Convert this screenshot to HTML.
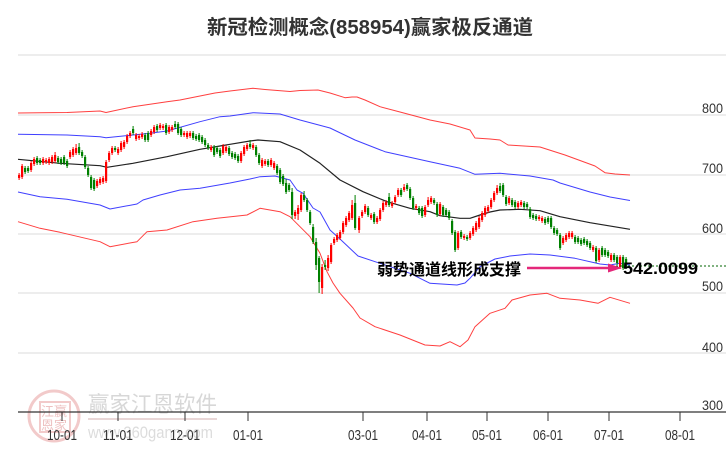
<!DOCTYPE html>
<html><head><meta charset="utf-8"><style>
html,body{margin:0;padding:0;background:#fff;}
svg{display:block;}
text{font-family:"Liberation Sans","Noto Sans CJK SC",sans-serif;}
</style></head><body>
<svg width="726" height="450" viewBox="0 0 726 450" xmlns="http://www.w3.org/2000/svg">
<rect width="726" height="450" fill="#fff"/>
<!-- title -->
<text x="207" y="34" font-size="20" font-weight="bold" fill="#333" textLength="326" lengthAdjust="spacingAndGlyphs">新冠检测概念(858954)赢家极反通道</text>
<!-- grid -->
<g stroke="#e2e2e2" stroke-width="1.2">
<line x1="18" y1="55" x2="726" y2="55"/>
<line x1="18" y1="115" x2="726" y2="115"/>
<line x1="18" y1="175" x2="726" y2="175"/>
<line x1="18" y1="234" x2="726" y2="234"/>
<line x1="18" y1="293" x2="726" y2="293"/>
<line x1="18" y1="353" x2="726" y2="353"/>
</g>
<!-- y labels -->
<g font-size="14" fill="#333" text-anchor="end">
<text x="723" y="113" textLength="21" lengthAdjust="spacingAndGlyphs">800</text>
<text x="723" y="173" textLength="21" lengthAdjust="spacingAndGlyphs">700</text>
<text x="723" y="233" textLength="21" lengthAdjust="spacingAndGlyphs">600</text>
<text x="723" y="291" textLength="21" lengthAdjust="spacingAndGlyphs">500</text>
<text x="723" y="352" textLength="21" lengthAdjust="spacingAndGlyphs">400</text>
<text x="723" y="410" textLength="21" lengthAdjust="spacingAndGlyphs">300</text>
</g>
<!-- watermark -->
<g opacity="0.55">
<circle cx="54" cy="416" r="25" fill="none" stroke="#e8a0a0" stroke-width="3"/>
<rect x="40" y="402" width="30" height="30" fill="none" stroke="#e8a0a0" stroke-width="2"/>
<text x="41" y="416" font-size="13" fill="#e09090">江赢</text>
<text x="41" y="430" font-size="13" fill="#e09090">恩家</text>
<text x="88" y="412" font-size="22" fill="#b8b8b8" textLength="129" lengthAdjust="spacingAndGlyphs">赢家江恩软件</text>
<line x1="88" y1="419" x2="217" y2="419" stroke="#d8b8b8" stroke-width="2"/>
<text x="88" y="438" font-size="17" fill="#c0c0c0" textLength="125" lengthAdjust="spacingAndGlyphs">www.360gann.com</text>
</g>
<!-- channel lines -->
<g fill="none" stroke-linejoin="round">
<polyline stroke="#ff2a2a" stroke-width="1" opacity="0.9" points="18,113 40,112.7 67,112.5 100,111 106,112.5 133,106.7 167,101.7 180,100 200,96 215,93 230,91 253,88.3 265,89.5 290,91.5 300,90.5 318,90 330,93 345,97.7 352,97 357,97 365,100 380,106.7 400,112 430,120 450,124 470,130 475,138 490,139 500,140 508,145 540,147 565,155 595,166 605,172.7 615,174 630,175"/>
<polyline stroke="#2a2aff" stroke-width="1" opacity="0.9" points="18,134.3 67,135 100,136.7 106,137.7 133,135 150,133.3 167,131 200,121.7 220,116.7 230,116 253,112.7 280,114 300,120 330,128 355,140 385,151.7 430,161.7 460,168.3 475,174.3 500,173.3 530,176 553,180 560,183 590,192 610,197 630,200.5"/>
<polyline stroke="#222" stroke-width="1.2" points="18,159.3 60,163.3 100,165.7 107,167.3 133,163.3 167,156.7 200,149.3 220,146 230,144.3 250,141 258,140 280,141.7 300,150 320,163.3 340,180 363,191.7 387,201.7 410,208.3 430,211.7 440,215.7 460,218.3 470,218.3 480,215 490,212 500,210 520,209.3 540,210.7 560,216.7 590,222.7 630,229.3"/>
<polyline stroke="#2a2aff" stroke-width="1" opacity="0.9" points="18,192 40,196.7 67,199.3 100,205 110,209 137,204 143,200 160,195 180,190 200,188.3 230,183 250,179 260,176.7 275,176 290,180 297,190 303,193.3 313,208 320,212 330,230 340,239 358,256 380,263.3 410,273.3 430,283.3 457,285 465,283 470,278.3 480,266.7 495,259 510,256 530,254 550,255 575,258.3 600,264 610,265 620,263.3 630,265"/>
<polyline stroke="#ff2a2a" stroke-width="1" opacity="0.9" points="18,221.7 40,228.3 60,232.3 100,241.7 110,246.7 137,241.7 147,231.7 167,230 193,221.7 217,218.3 247,215 260,208.3 280,211.7 290,216.7 300,226.7 310,236.7 320,253.3 327,271.7 333,283 340,293.3 353,308 360,318 375,326.7 400,335 425,345 440,346 450,341.7 460,346.7 468,340 475,326.7 490,313.3 505,308.3 512,300 530,295 547,293.3 560,298.3 580,300 598,303.3 610,297.3 630,303.3"/>
</g>
<!-- candles: red -->
<path fill="none" stroke="#ff0000" stroke-width="1" d="M19.1 173V180 M22.1 164V179 M31.1 161V172 M34.1 157V166 M43.1 157V165 M46.1 158V164 M49.1 157V165 M52.1 155V164 M55.1 152V163 M70.1 150V159 M73.1 147V157 M76.1 144V155 M97.1 179V188 M100.1 177V185 M103.1 176V184 M106.1 160V183 M109.1 151V162 M112.1 146V155 M118.1 147V155 M121.1 141V152 M124.1 140V149 M127.1 134V144 M130.1 131V138 M136.1 133V141 M139.1 134V140 M142.1 132V139 M151.1 129V137 M154.1 125V134 M160.1 123V130 M163.1 124V130 M169.1 125V134 M172.1 125V132 M184.1 131V137 M187.1 131V139 M190.1 131V138 M211.1 145V152 M223.1 144V155 M226.1 145V153 M241.1 151V163 M244.1 145V156 M247.1 143V151 M253.1 143V150 M262.1 158V168 M265.1 159V166 M271.1 158V167 M274.1 161V170 M295.1 210V219 M298.1 205V220 M301.1 193V212 M322.1 264V294 M328.1 255V271 M331.1 243V264 M334.1 237V245 M337.1 233V242 M340.1 230V240 M343.1 221V234 M346.1 216V227 M349.1 211V222 M352.1 200V220 M359.1 216V233 M362.1 210V218 M365.1 204V214 M371.1 213V220 M377.1 216V224 M380.1 208V221 M383.1 201V212 M386.1 200V207 M392.1 201V208 M395.1 195V204 M398.1 188V197 M404.1 184V192 M416.1 204V210 M425.1 205V217 M428.1 197V207 M431.1 196V204 M440.1 202V216 M458.1 231V250 M464.1 234V240 M470.1 231V240 M473.1 226V236 M476.1 221V232 M479.1 216V229 M482.1 211V222 M485.1 206V217 M488.1 205V213 M491.1 198V209 M494.1 191V202 M497.1 185V195 M509.1 196V205 M518.1 201V209 M521.1 200V207 M539.1 215V221 M542.1 216V223 M563.1 236V245 M566.1 233V242 M569.1 231V239 M572.1 231V239 M593.1 245V252 M599.1 248V262 M611.1 253V262 M620.1 255V269"/>
<path fill="#ff0000" d="M18 175h2.2v3h-2.2z M21 166h2.2v11h-2.2z M30 163h2.2v7h-2.2z M33 159h2.2v5h-2.2z M42 159h2.2v4h-2.2z M45 160h2.2v2h-2.2z M48 159h2.2v4h-2.2z M51 157h2.2v5h-2.2z M54 155h2.2v6h-2.2z M69 152h2.2v5h-2.2z M72 149h2.2v6h-2.2z M75 148h2.2v5h-2.2z M96 181h2.2v5h-2.2z M99 179h2.2v4h-2.2z M102 178h2.2v4h-2.2z M105 162h2.2v19h-2.2z M108 153h2.2v7h-2.2z M111 148h2.2v5h-2.2z M117 149h2.2v4h-2.2z M120 143h2.2v7h-2.2z M123 142h2.2v5h-2.2z M126 136h2.2v6h-2.2z M129 133h2.2v3h-2.2z M135 135h2.2v4h-2.2z M138 136h2.2v2h-2.2z M141 134h2.2v3h-2.2z M150 131h2.2v4h-2.2z M153 127h2.2v5h-2.2z M159 125h2.2v3h-2.2z M162 126h2.2v2h-2.2z M168 127h2.2v5h-2.2z M171 127h2.2v3h-2.2z M183 133h2.2v2h-2.2z M186 133h2.2v4h-2.2z M189 133h2.2v3h-2.2z M210 147h2.2v3h-2.2z M222 146h2.2v7h-2.2z M225 147h2.2v4h-2.2z M240 153h2.2v8h-2.2z M243 147h2.2v7h-2.2z M246 145h2.2v4h-2.2z M252 145h2.2v3h-2.2z M261 160h2.2v6h-2.2z M264 161h2.2v3h-2.2z M270 160h2.2v5h-2.2z M273 163h2.2v5h-2.2z M294 212h2.2v4h-2.2z M297 208h2.2v6h-2.2z M300 195h2.2v15h-2.2z M321 267h2.2v21h-2.2z M327 258h2.2v10h-2.2z M330 245h2.2v17h-2.2z M333 239h2.2v4h-2.2z M336 235h2.2v5h-2.2z M339 232h2.2v6h-2.2z M342 223h2.2v9h-2.2z M345 218h2.2v7h-2.2z M348 213h2.2v7h-2.2z M351 205h2.2v13h-2.2z M358 218h2.2v12h-2.2z M361 212h2.2v4h-2.2z M364 206h2.2v6h-2.2z M370 215h2.2v3h-2.2z M376 218h2.2v4h-2.2z M379 210h2.2v9h-2.2z M382 203h2.2v7h-2.2z M385 202h2.2v3h-2.2z M391 203h2.2v3h-2.2z M394 197h2.2v5h-2.2z M397 190h2.2v5h-2.2z M403 187h2.2v3h-2.2z M415 206h2.2v2h-2.2z M424 207h2.2v8h-2.2z M427 200h2.2v5h-2.2z M430 198h2.2v4h-2.2z M439 204h2.2v10h-2.2z M457 233h2.2v15h-2.2z M463 236h2.2v2h-2.2z M469 233h2.2v5h-2.2z M472 228h2.2v6h-2.2z M475 223h2.2v7h-2.2z M478 218h2.2v9h-2.2z M481 213h2.2v7h-2.2z M484 208h2.2v7h-2.2z M487 207h2.2v4h-2.2z M490 200h2.2v7h-2.2z M493 193h2.2v7h-2.2z M496 188h2.2v5h-2.2z M508 198h2.2v5h-2.2z M517 203h2.2v4h-2.2z M520 202h2.2v3h-2.2z M538 217h2.2v2h-2.2z M541 218h2.2v3h-2.2z M562 238h2.2v5h-2.2z M565 235h2.2v5h-2.2z M568 233h2.2v4h-2.2z M571 233h2.2v4h-2.2z M592 247h2.2v3h-2.2z M598 250h2.2v10h-2.2z M610 255h2.2v5h-2.2z M619 257h2.2v10h-2.2z"/>
<!-- candles: green -->
<path fill="none" stroke="#008000" stroke-width="1" d="M25.1 166V174 M28.1 166V173 M37.1 156V165 M40.1 158V165 M58.1 156V164 M61.1 157V165 M64.1 155V165 M67.1 159V168 M79.1 143V155 M82.1 150V158 M85.1 155V169 M88.1 166V177 M91.1 175V190 M94.1 178V191 M115.1 146V152 M133.1 126V135 M145.1 133V142 M148.1 131V142 M157.1 124V132 M166.1 123V135 M175.1 121V129 M178.1 122V135 M181.1 127V137 M193.1 131V140 M196.1 134V141 M199.1 133V142 M202.1 135V144 M205.1 138V147 M208.1 143V150 M214.1 145V157 M217.1 146V154 M220.1 148V158 M229.1 146V156 M232.1 151V159 M235.1 152V160 M238.1 154V163 M250.1 140V149 M256.1 145V157 M259.1 153V165 M268.1 159V167 M277.1 164V175 M280.1 168V184 M283.1 174V186 M286.1 179V194 M289.1 183V192 M292.1 188V219 M304.1 191V202 M307.1 198V212 M310.1 210V225 M313.1 224V244 M316.1 238V270 M319.1 256V293 M325.1 260V270 M355.1 195V230 M368.1 206V217 M374.1 212V224 M389.1 193V207 M401.1 188V197 M407.1 183V191 M410.1 187V200 M413.1 196V210 M419.1 206V215 M422.1 206V218 M434.1 198V205 M437.1 202V217 M443.1 205V217 M446.1 208V217 M449.1 210V220 M452.1 219V235 M455.1 230V252 M461.1 230V239 M467.1 235V241 M500.1 183V193 M503.1 183V197 M506.1 195V206 M512.1 198V207 M515.1 200V209 M524.1 201V209 M527.1 202V209 M530.1 207V219 M533.1 213V220 M536.1 214V221 M545.1 217V225 M548.1 216V224 M551.1 216V229 M554.1 226V235 M557.1 228V236 M560.1 233V250 M575.1 235V244 M578.1 236V244 M581.1 238V246 M584.1 237V245 M587.1 239V247 M590.1 241V250 M596.1 246V263 M602.1 246V257 M605.1 248V257 M608.1 250V258 M614.1 253V262 M617.1 255V265 M623.1 255V270 M626.1 257V269"/>
<path fill="#008000" d="M24 168h2.2v4h-2.2z M27 168h2.2v3h-2.2z M36 158h2.2v5h-2.2z M39 160h2.2v3h-2.2z M57 158h2.2v4h-2.2z M60 159h2.2v4h-2.2z M63 157h2.2v6h-2.2z M66 161h2.2v5h-2.2z M78 147h2.2v6h-2.2z M81 152h2.2v4h-2.2z M84 157h2.2v10h-2.2z M87 168h2.2v7h-2.2z M90 177h2.2v11h-2.2z M93 180h2.2v9h-2.2z M114 148h2.2v2h-2.2z M132 129h2.2v4h-2.2z M144 135h2.2v5h-2.2z M147 133h2.2v7h-2.2z M156 126h2.2v4h-2.2z M165 125h2.2v8h-2.2z M174 124h2.2v3h-2.2z M177 124h2.2v9h-2.2z M180 129h2.2v6h-2.2z M192 133h2.2v5h-2.2z M195 136h2.2v3h-2.2z M198 135h2.2v5h-2.2z M201 137h2.2v5h-2.2z M204 140h2.2v5h-2.2z M207 145h2.2v3h-2.2z M213 147h2.2v8h-2.2z M216 148h2.2v4h-2.2z M219 150h2.2v6h-2.2z M228 148h2.2v6h-2.2z M231 153h2.2v4h-2.2z M234 154h2.2v4h-2.2z M237 156h2.2v5h-2.2z M249 144h2.2v3h-2.2z M255 147h2.2v8h-2.2z M258 155h2.2v8h-2.2z M267 161h2.2v4h-2.2z M276 166h2.2v7h-2.2z M279 170h2.2v12h-2.2z M282 176h2.2v8h-2.2z M285 183h2.2v9h-2.2z M288 185h2.2v5h-2.2z M291 192h2.2v23h-2.2z M303 195h2.2v5h-2.2z M306 200h2.2v10h-2.2z M309 212h2.2v11h-2.2z M312 227h2.2v15h-2.2z M315 242h2.2v23h-2.2z M318 258h2.2v24h-2.2z M324 265h2.2v2h-2.2z M354 203h2.2v25h-2.2z M367 208h2.2v7h-2.2z M373 214h2.2v8h-2.2z M388 197h2.2v8h-2.2z M400 190h2.2v5h-2.2z M406 185h2.2v4h-2.2z M409 189h2.2v9h-2.2z M412 198h2.2v10h-2.2z M418 208h2.2v5h-2.2z M421 208h2.2v8h-2.2z M433 200h2.2v3h-2.2z M436 204h2.2v11h-2.2z M442 207h2.2v8h-2.2z M445 210h2.2v5h-2.2z M448 212h2.2v6h-2.2z M451 221h2.2v12h-2.2z M454 232h2.2v18h-2.2z M460 232h2.2v5h-2.2z M466 237h2.2v2h-2.2z M499 186h2.2v5h-2.2z M502 185h2.2v10h-2.2z M505 197h2.2v7h-2.2z M511 200h2.2v5h-2.2z M514 202h2.2v5h-2.2z M523 203h2.2v4h-2.2z M526 204h2.2v3h-2.2z M529 209h2.2v8h-2.2z M532 215h2.2v3h-2.2z M535 216h2.2v3h-2.2z M544 219h2.2v4h-2.2z M547 218h2.2v4h-2.2z M550 218h2.2v9h-2.2z M553 228h2.2v5h-2.2z M556 230h2.2v4h-2.2z M559 235h2.2v13h-2.2z M574 237h2.2v5h-2.2z M577 238h2.2v4h-2.2z M580 240h2.2v4h-2.2z M583 239h2.2v4h-2.2z M586 241h2.2v4h-2.2z M589 243h2.2v5h-2.2z M595 248h2.2v13h-2.2z M601 248h2.2v7h-2.2z M604 250h2.2v5h-2.2z M607 252h2.2v4h-2.2z M613 255h2.2v5h-2.2z M616 257h2.2v6h-2.2z M622 257h2.2v11h-2.2z M625 259h2.2v8h-2.2z"/>
<!-- support dotted line -->
<line x1="612" y1="266" x2="726" y2="266" stroke="#006400" stroke-width="1" stroke-dasharray="2,2"/>
<!-- annotation -->
<text x="377" y="275" font-size="16" font-weight="bold" fill="#000" textLength="144" lengthAdjust="spacingAndGlyphs">弱势通道线形成支撑</text>
<line x1="527" y1="268" x2="612" y2="268" stroke="#e4287a" stroke-width="2.5"/>
<polygon points="608,263.5 622,268 608,272.5" fill="#e4287a"/>
<text x="623" y="274" font-size="17" font-weight="bold" fill="#000" textLength="75" lengthAdjust="spacingAndGlyphs">542.0099</text>
<!-- x axis -->
<line x1="18" y1="412" x2="726" y2="412" stroke="#333" stroke-width="1.2"/>
<g stroke="#333" stroke-width="1">
<line x1="62" y1="412" x2="62" y2="421"/>
<line x1="118" y1="412" x2="118" y2="421"/>
<line x1="185" y1="412" x2="185" y2="421"/>
<line x1="248" y1="412" x2="248" y2="421"/>
<line x1="363" y1="412" x2="363" y2="421"/>
<line x1="427" y1="412" x2="427" y2="421"/>
<line x1="487" y1="412" x2="487" y2="421"/>
<line x1="548" y1="412" x2="548" y2="421"/>
<line x1="609" y1="412" x2="609" y2="421"/>
<line x1="680" y1="412" x2="680" y2="421"/>
</g>
<g font-size="15" fill="#333" text-anchor="middle">
<text x="62" y="440" textLength="30" lengthAdjust="spacingAndGlyphs">10-01</text>
<text x="118" y="440" textLength="30" lengthAdjust="spacingAndGlyphs">11-01</text>
<text x="185" y="440" textLength="30" lengthAdjust="spacingAndGlyphs">12-01</text>
<text x="248" y="440" textLength="30" lengthAdjust="spacingAndGlyphs">01-01</text>
<text x="363" y="440" textLength="30" lengthAdjust="spacingAndGlyphs">03-01</text>
<text x="427" y="440" textLength="30" lengthAdjust="spacingAndGlyphs">04-01</text>
<text x="487" y="440" textLength="30" lengthAdjust="spacingAndGlyphs">05-01</text>
<text x="548" y="440" textLength="30" lengthAdjust="spacingAndGlyphs">06-01</text>
<text x="609" y="440" textLength="30" lengthAdjust="spacingAndGlyphs">07-01</text>
<text x="680" y="440" textLength="30" lengthAdjust="spacingAndGlyphs">08-01</text>
</g>
</svg>
</body></html>
